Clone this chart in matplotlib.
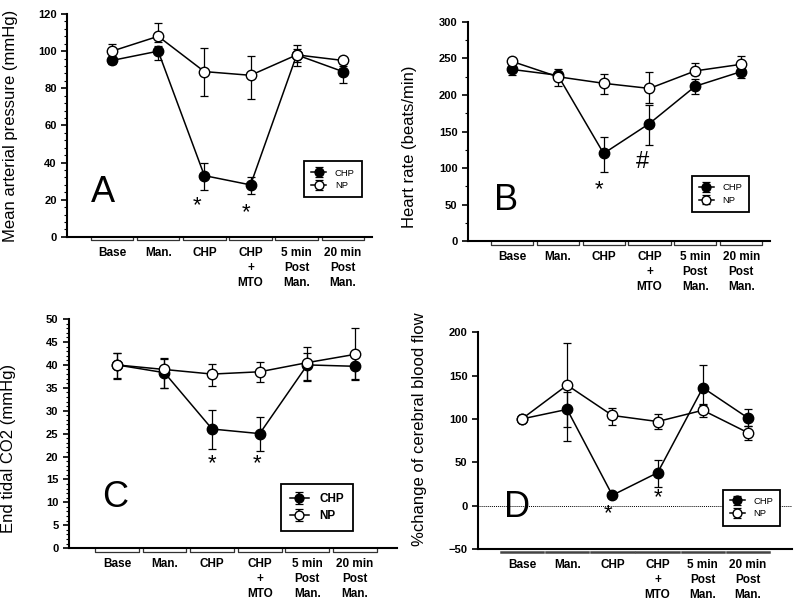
"""Four-panel haemodynamic response chart (CHP vs NP)."""

import matplotlib

matplotlib.use("Agg")
import matplotlib.pyplot as plt
from matplotlib.ticker import AutoMinorLocator, MultipleLocator
import matplotlib.transforms as mtransforms

plt.rcParams["font.family"] = ["Liberation Sans", "DejaVu Sans"]

STAGES = ["Base", "Man.", "CHP", "CHP\n+\nMTO", "5 min\nPost\nMan.", "20 min\nPost\nMan."]

# panel A: mean arterial pressure
map_chp = [95, 100, 33, 28, 98, 89]
map_chp_lo = [2, 5, 8, 5, 6, 6]
map_chp_hi = [2, 3, 7, 4, 3, 3]
map_np = [100, 108, 89, 87, 98, 95]
map_np_lo = [3, 3, 13, 12.5, 4, 2]
map_np_hi = [4, 7, 12.5, 10.5, 5.5, 2]
map_marks = [(1.85, 17, "*"), (2.9, 13, "*")]

# panel B: heart rate
hr_chp = [235, 227, 120, 161, 212, 232]
hr_chp_lo = [7, 5, 26, 29, 10, 9]
hr_chp_hi = [7, 5, 23, 26, 10, 5]
hr_np = [246, 225, 216, 209, 233, 242]
hr_np_lo = [4, 13, 15, 20, 5, 5]
hr_np_hi = [5, 10, 13, 22, 11, 11]
hr_marks = [(1.9, 70, "*"), (2.85, 109, "#")]

# panel C: end tidal CO2
co2_chp = [40, 38.3, 26, 25, 40, 39.7]
co2_chp_lo = [3, 3.4, 4.3, 3.9, 3.3, 3]
co2_chp_hi = [2.5, 3, 4.2, 3.7, 2.5, 2.5]
co2_np = [40, 39, 38, 38.5, 40.5, 42.3]
co2_np_lo = [2.8, 4, 2.5, 2.3, 4, 5.4]
co2_np_hi = [2.7, 2.6, 2.3, 2.2, 3.5, 5.8]
co2_marks = [(2.0, 18.5, "*"), (2.95, 18.5, "*")]

# panel D: % change of cerebral blood flow
cbf_chp = [100, 111, 12, 38, 136, 101]
cbf_chp_lo = [0, 37, 3, 17, 20, 9]
cbf_chp_hi = [0, 20, 3, 15, 26, 11]
cbf_np = [100, 139, 104, 97, 110, 84]
cbf_np_lo = [0, 48, 11, 9, 8, 8.5]
cbf_np_hi = [0, 48, 9, 8.5, 7, 8]
cbf_marks = [(1.9, -9, "*"), (3.0, 9, "*")]


def draw_panel(ax, chp, chp_err, np_, np_err, marks, letter, letter_xy,
               ylabel, label_xy, ylim, major, minor, xlim, legend_xy,
               legend_big=False, zero_line=False, bracket_style="tick"):
    xs = list(range(len(STAGES)))
    if zero_line:
        ax.axhline(0, color="black", linestyle=(0, (1, 1)), linewidth=0.7, zorder=1)
    ax.errorbar(xs, chp, yerr=chp_err, color="black", marker="o",
                markersize=7.5, markerfacecolor="black", linewidth=1.1,
                elinewidth=0.9, capsize=3, capthick=0.9, label="CHP", zorder=3)
    ax.errorbar(xs, np_, yerr=np_err, color="black", marker="o",
                markersize=7.5, markerfacecolor="white", linewidth=1.1,
                elinewidth=0.9, capsize=3, capthick=0.9, label="NP", zorder=4)

    for x, y, text in marks:
        size = 17 if text == "#" else 16
        ax.text(x, y, text, ha="center", va="center", fontsize=size)

    ax.text(letter_xy[0], letter_xy[1], letter, ha="center", va="center",
            fontsize=26)

    ax.set_xlim(*xlim)
    ax.set_ylim(*ylim)
    ax.yaxis.set_major_locator(MultipleLocator(major))
    if minor:
        ax.yaxis.set_minor_locator(AutoMinorLocator(minor))
    ax.set_xticks(xs, STAGES)
    ax.tick_params(axis="x", length=0, pad=7)
    ax.tick_params(axis="y", which="major", length=4, width=1.2, labelsize=8)
    ax.tick_params(axis="y", which="minor", length=2, width=0.8)
    for lab in ax.get_xticklabels():
        lab.set_fontweight("bold")
        lab.set_fontsize(8.5)
        lab.set_linespacing(1.35)
        lab.set_verticalalignment("top")
    for lab in ax.get_yticklabels():
        lab.set_fontweight("bold")

    for side in ("top", "right"):
        ax.spines[side].set_visible(False)
    for side in ("left", "bottom"):
        ax.spines[side].set_linewidth(1.5)

    ax.set_ylabel(ylabel, fontsize=12)
    ax.yaxis.set_label_coords(*label_xy)

    # group brackets under each stage
    trans = mtransforms.blended_transform_factory(ax.transData, ax.transAxes)
    for x in xs:
        if bracket_style == "tick":
            ax.plot([x - 0.46, x - 0.46, x + 0.46, x + 0.46],
                    [-0.004, -0.016, -0.016, -0.004], color="#333333",
                    linewidth=0.9, transform=trans, clip_on=False)
        else:
            ax.plot([x - 0.47, x + 0.47], [-0.016, -0.016], color="#444444",
                    linewidth=1.8, transform=trans, clip_on=False)

    leg = ax.legend(loc="center", bbox_to_anchor=legend_xy, frameon=True,
                    fancybox=False, framealpha=1, edgecolor="black",
                    handlelength=1.6, handletextpad=0.9, borderpad=0.75,
                    labelspacing=0.4, markerscale=0.85,
                    prop={"size": 8.5 if legend_big else 6.8,
                          "weight": "bold" if legend_big else "normal"})
    leg.get_frame().set_linewidth(1.3)
    for handle in leg.legend_handles:
        handle.set_linewidth(1.3)


fig = plt.figure(figsize=(8.0, 6.09), dpi=100)

ax_a = fig.add_axes([0.084, 0.611, 0.381, 0.366])
draw_panel(ax_a, map_chp, [map_chp_lo, map_chp_hi], map_np,
           [map_np_lo, map_np_hi], map_marks, "A", (-0.2, 24),
           "Mean arterial pressure (mmHg)", (-0.16, 0.5), (0, 120), 20, 5,
           (-0.97, 5.63), (0.872, 0.258))

ax_b = fig.add_axes([0.585, 0.604, 0.3775, 0.36])
draw_panel(ax_b, hr_chp, [hr_chp_lo, hr_chp_hi], hr_np,
           [hr_np_lo, hr_np_hi], hr_marks, "B", (-0.13, 56),
           "Heart rate (beats/min)", (-0.168, 0.43), (0, 300), 50, 2,
           (-0.96, 5.63), (0.836, 0.215))

ax_c = fig.add_axes([0.086, 0.1, 0.41, 0.376])
draw_panel(ax_c, co2_chp, [co2_chp_lo, co2_chp_hi], co2_np,
           [co2_np_lo, co2_np_hi], co2_marks, "C", (-0.04, 11.1),
           "End tidal CO2 (mmHg)", (-0.16, 0.437), (0, 50), 5, 5,
           (-1.01, 5.88), (0.756, 0.177), legend_big=True)

ax_d = fig.add_axes([0.5975, 0.0985, 0.3925, 0.356])
draw_panel(ax_d, cbf_chp, [cbf_chp_lo, cbf_chp_hi], cbf_np,
           [cbf_np_lo, cbf_np_hi], cbf_marks, "D", (-0.11, -1.6),
           "%change of cerebral blood flow", (-0.164, 0.553), (-50, 200), 50,
           None, (-0.97, 5.97), (0.871, 0.191), zero_line=True,
           bracket_style="bar")

fig.savefig("out.png", dpi=100)
